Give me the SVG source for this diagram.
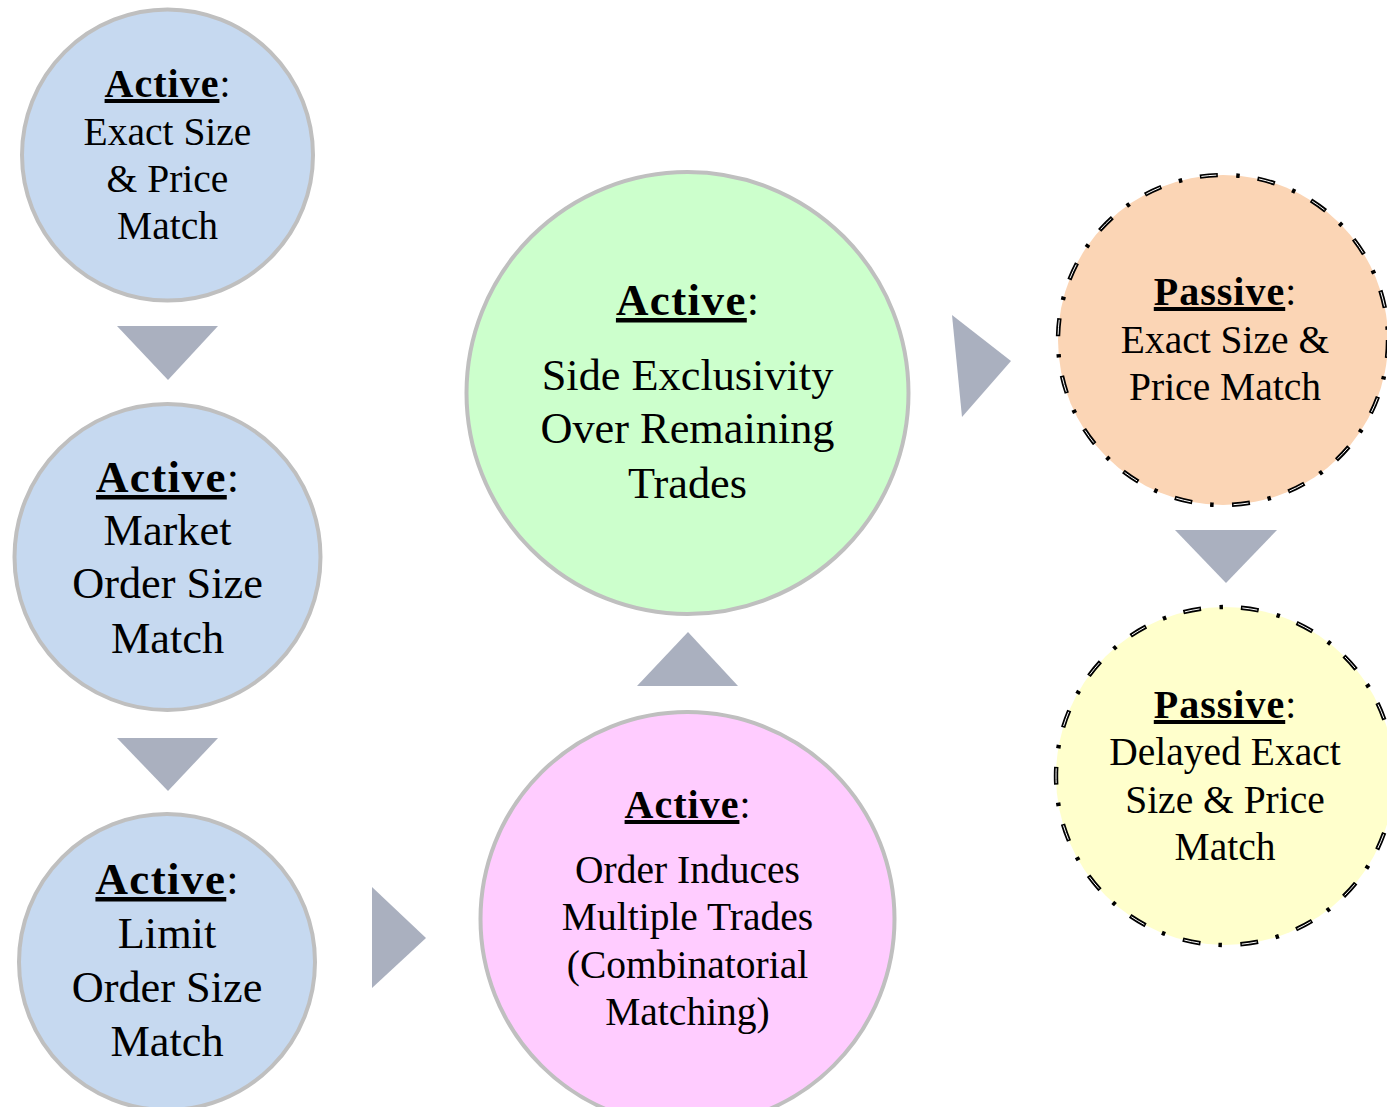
<svg xmlns="http://www.w3.org/2000/svg" width="1387" height="1107" viewBox="0 0 1387 1107">
<style>
.bg{fill:#ffffff}
.solid{stroke:#bfbfbf;stroke-width:4}
.blue{fill:#c6d9f0}
.green{fill:#ccffcc}
.pink{fill:#ffccff}
.orange{fill:#fbd5b5}
.yellow{fill:#ffffcc}
.dashblk{fill:none;stroke:#000;stroke-width:4.4;stroke-dasharray:18 18.5 3.5 18}
.dashwht{fill:none;stroke:#fff;stroke-width:1;stroke-dasharray:15 43;stroke-dashoffset:-1.5}
.arrow{fill:#aab0bf}
text{font-family:"Liberation Serif","Times New Roman",serif;fill:#000;text-anchor:middle}
.s{font-size:39.5px}
.l{font-size:44.3px}
.bs{font-weight:bold;font-size:40px;letter-spacing:1px;text-decoration:underline}
.bl{font-weight:bold;font-size:45px;letter-spacing:1.4px;text-decoration:underline}
</style>
<rect class="bg" x="0" y="0" width="1387" height="1107"/>

<g id="connectors">
<polygon class="arrow" points="117,326 218,326 168,380"/>
<polygon class="arrow" points="117,738 218,738 168,791"/>
<polygon class="arrow" points="372,887 426,938 372,988"/>
<polygon class="arrow" points="637,686 738,686 688,632"/>
<polygon class="arrow" points="952,315 1011,361 962,417"/>
<polygon class="arrow" points="1175,530 1277,530 1226,583"/>
</g>

<g id="node-exact">
<circle class="blue solid" cx="167.5" cy="155" r="145.5"/>
<text x="167.5" y="97" class="s"><tspan class="bs">Active</tspan>:</text>
<text x="167.5" y="145" class="s">Exact Size</text>
<text x="167.5" y="192" class="s">&amp; Price</text>
<text x="167.5" y="239" class="s">Match</text>
</g>

<g id="node-market">
<circle class="blue solid" cx="167.5" cy="557" r="153"/>
<text x="167.5" y="492" class="l"><tspan class="bl">Active</tspan>:</text>
<text x="167.5" y="545" class="l">Market</text>
<text x="167.5" y="598" class="l">Order Size</text>
<text x="167.5" y="653" class="l">Match</text>
</g>

<g id="node-limit">
<circle class="blue solid" cx="167" cy="962" r="148"/>
<text x="167" y="894" class="l"><tspan class="bl">Active</tspan>:</text>
<text x="167" y="948" class="l">Limit</text>
<text x="167" y="1002" class="l">Order Size</text>
<text x="167" y="1056" class="l">Match</text>
</g>

<g id="node-side">
<circle class="green solid" cx="687.5" cy="393" r="221"/>
<text x="687.5" y="315" class="l"><tspan class="bl">Active</tspan>:</text>
<text x="687.5" y="390" class="l">Side Exclusivity</text>
<text x="687.5" y="443" class="l">Over Remaining</text>
<text x="687.5" y="498" class="l">Trades</text>
</g>

<g id="node-combinatorial">
<circle class="pink solid" cx="687.5" cy="919" r="207"/>
<text x="687.5" y="818" class="s"><tspan class="bs">Active</tspan>:</text>
<text x="687.5" y="883" class="s">Order Induces</text>
<text x="687.5" y="930" class="s">Multiple Trades</text>
<text x="687.5" y="978" class="s">(Combinatorial</text>
<text x="687.5" y="1025" class="s">Matching)</text>
</g>

<g id="node-passive-exact">
<circle class="orange" cx="1223" cy="340" r="165"/>
<circle class="dashblk" cx="1223" cy="340" r="165"/>
<circle class="dashwht" cx="1223" cy="340" r="165"/>
<text x="1225" y="305" class="s"><tspan class="bs">Passive</tspan>:</text>
<text x="1225" y="353" class="s">Exact Size &amp;</text>
<text x="1225" y="400" class="s">Price Match</text>
</g>

<g id="node-passive-delayed">
<circle class="yellow" cx="1225" cy="776" r="169"/>
<circle class="dashblk" cx="1225" cy="776" r="169"/>
<circle class="dashwht" cx="1225" cy="776" r="169"/>
<text x="1225" y="718" class="s"><tspan class="bs">Passive</tspan>:</text>
<text x="1225" y="765" class="s">Delayed Exact</text>
<text x="1225" y="813" class="s">Size &amp; Price</text>
<text x="1225" y="860" class="s">Match</text>
</g>
</svg>
